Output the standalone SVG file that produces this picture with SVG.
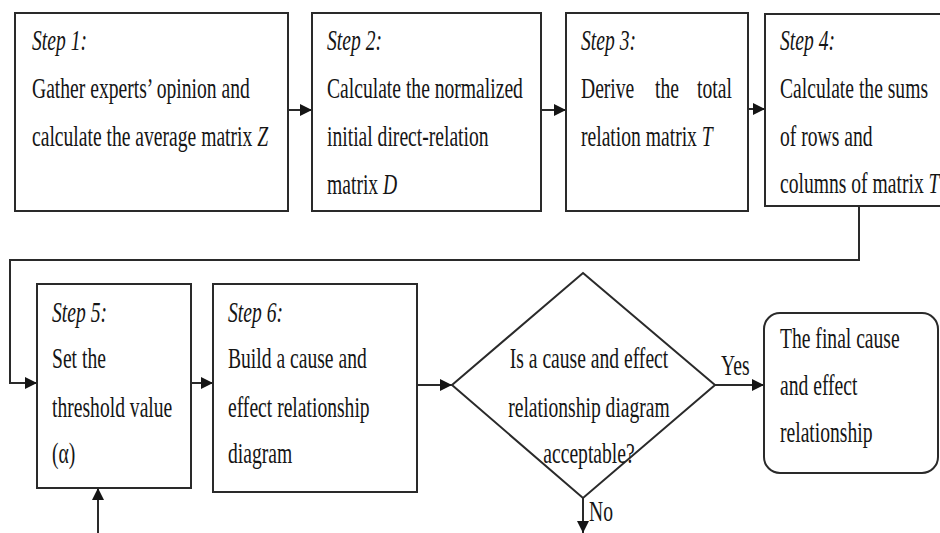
<svg xmlns="http://www.w3.org/2000/svg" width="940" height="533" viewBox="0 0 940 533">
<defs>
<style>
.box{fill:#fff;stroke:#2a2a2a;stroke-width:2}
.ln{fill:none;stroke:#2a2a2a;stroke-width:2}
.t{font-family:"Liberation Serif","Times New Roman",serif;font-size:19.6px;fill:#151515}
.i{font-style:italic}
.c{text-anchor:middle}
</style>
<marker id="ah" markerUnits="userSpaceOnUse" markerWidth="13" markerHeight="13" refX="12" refY="6" orient="auto">
<path d="M0,0 L12,6 L0,12 z" fill="#151515"/>
</marker>
</defs>
<rect width="940" height="533" fill="#fff"/>
<g id="connectors">
<path class="ln" d="M288,110 H312" marker-end="url(#ah)"/>
<path class="ln" d="M541,110 H566" marker-end="url(#ah)"/>
<path class="ln" d="M748,109 H765" marker-end="url(#ah)"/>
<path class="ln" d="M859,206 V260 H10 V383 H37" marker-end="url(#ah)"/>
<path class="ln" d="M191,383 H213" marker-end="url(#ah)"/>
<path class="ln" d="M417,385 H452" marker-end="url(#ah)"/>
<path class="ln" d="M715,385 H764" marker-end="url(#ah)"/>
<path class="ln" d="M583,498 V533" marker-end="url(#ah)"/>
<path class="ln" d="M98,533 V488" marker-end="url(#ah)"/>
<text class="t" transform="translate(721,375) scale(1,1.45)">Yes</text>
<text class="t" transform="translate(589,521) scale(1,1.45)">No</text>
</g>
<g id="step1">
<rect class="box" x="15" y="13" width="273" height="198"/>
<text class="t i" transform="translate(32,50) scale(1,1.45)">Step 1:</text>
<text class="t" transform="translate(32,98) scale(1,1.45)">Gather experts’ opinion and</text>
<text class="t" transform="translate(32,146) scale(1,1.45)">calculate the average matrix <tspan class="i">Z</tspan></text>
</g>
<g id="step2">
<rect class="box" x="312" y="13" width="229" height="198"/>
<text class="t i" transform="translate(327,50) scale(1,1.45)">Step 2:</text>
<text class="t" transform="translate(327,98) scale(1,1.45)">Calculate the normalized</text>
<text class="t" transform="translate(327,146) scale(1,1.45)">initial direct-relation</text>
<text class="t" transform="translate(327,194) scale(1,1.45)">matrix <tspan class="i">D</tspan></text>
</g>
<g id="step3">
<rect class="box" x="566" y="13" width="182" height="198"/>
<text class="t i" transform="translate(581,50) scale(1,1.45)">Step 3:</text>
<text class="t" transform="translate(581,98) scale(1,1.45)">Derive</text>
<text class="t" transform="translate(655,98) scale(1,1.45)">the</text>
<text class="t" transform="translate(697,98) scale(1,1.45)">total</text>
<text class="t" transform="translate(581,146) scale(1,1.45)">relation matrix <tspan class="i">T</tspan></text>
</g>
<g id="step4">
<rect class="box" x="765" y="14" width="190" height="192"/>
<text class="t i" transform="translate(780,50) scale(1,1.45)">Step 4:</text>
<text class="t" transform="translate(780,98) scale(1,1.45)">Calculate the sums</text>
<text class="t" transform="translate(780,146) scale(1,1.45)">of rows and</text>
<text class="t" transform="translate(780,193) scale(1,1.45)">columns of matrix <tspan class="i">T</tspan></text>
</g>
<g id="step5">
<rect class="box" x="37" y="284" width="154" height="204"/>
<text class="t i" transform="translate(52,322) scale(1,1.45)">Step 5:</text>
<text class="t" transform="translate(52,368) scale(1,1.45)">Set the</text>
<text class="t" transform="translate(52,417) scale(1,1.45)">threshold value</text>
<text class="t" transform="translate(52,463) scale(1,1.45)">(α)</text>
</g>
<g id="step6">
<rect class="box" x="213" y="284" width="204" height="208"/>
<text class="t i" transform="translate(228,322) scale(1,1.45)">Step 6:</text>
<text class="t" transform="translate(228,368) scale(1,1.45)">Build a cause and</text>
<text class="t" transform="translate(228,417) scale(1,1.45)">effect relationship</text>
<text class="t" transform="translate(228,463) scale(1,1.45)">diagram</text>
</g>
<g id="decision">
<polygon class="box" points="583,273 715,385 583,498 452,385"/>
<text class="t c" transform="translate(589,368) scale(1,1.45)">Is a cause and effect</text>
<text class="t c" transform="translate(589,417) scale(1,1.45)">relationship diagram</text>
<text class="t c" transform="translate(589,463) scale(1,1.45)">acceptable?</text>
</g>
<g id="final">
<rect class="box" x="764" y="313" width="174" height="160" rx="16" ry="16"/>
<text class="t" transform="translate(780,348) scale(1,1.45)">The final cause</text>
<text class="t" transform="translate(780,395) scale(1,1.45)">and effect</text>
<text class="t" transform="translate(780,442) scale(1,1.45)">relationship</text>
</g>
</svg>
